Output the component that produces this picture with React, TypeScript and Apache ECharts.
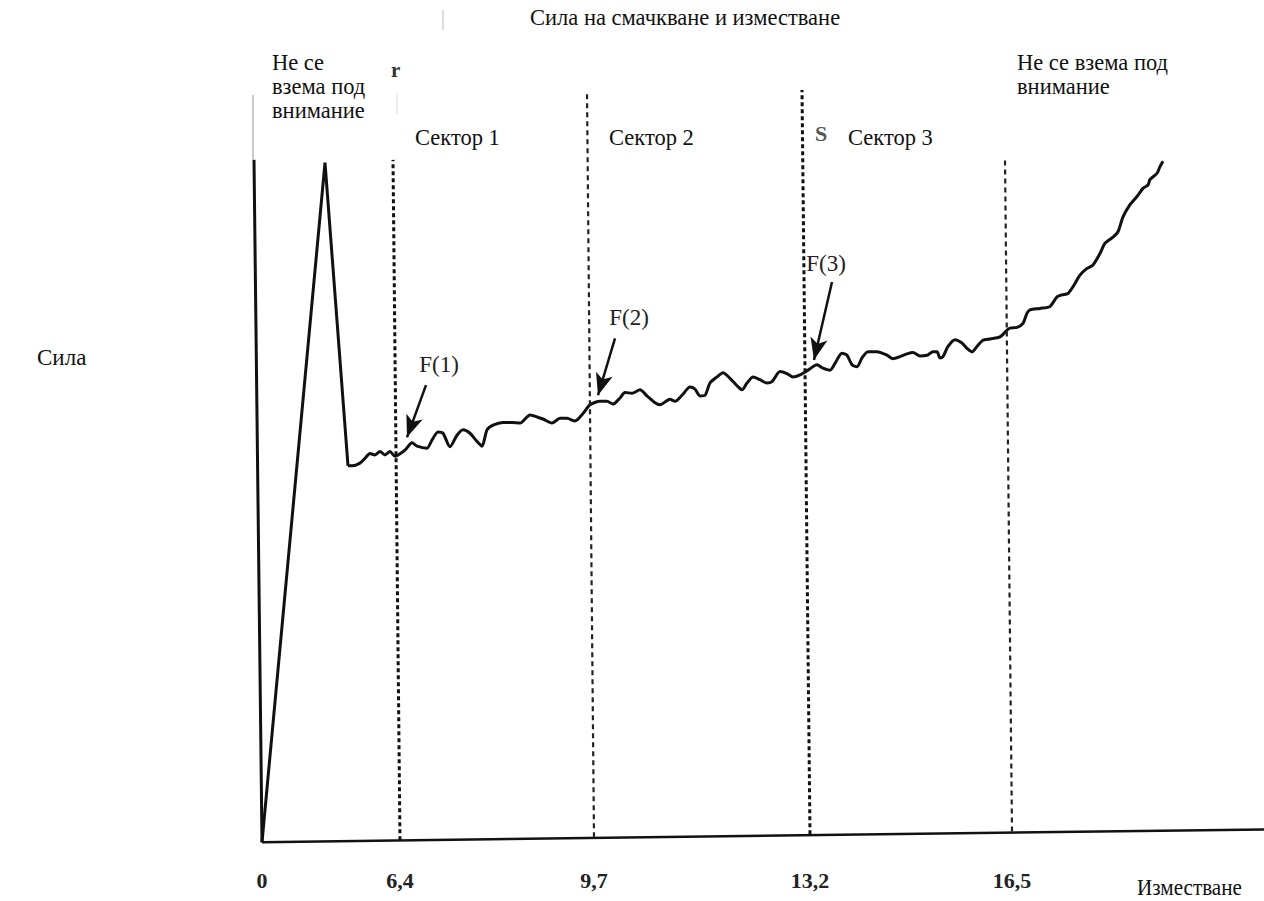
import React, { useEffect, useRef } from "react";
import * as echarts from "echarts";

const FONT = '"Liberation Serif", "Times New Roman", serif';

// Schematic x positions (axis units) of the labelled displacements
const tickLabels = ["0", "6,4", "9,7", "13,2", "16,5"];
const tickPositions = [0.4, 14.2, 33.6, 55.2, 75.4];

// Sector boundary dashed lines (the scan is slightly rotated): bottom/top ends
const boundaryBottomX = [14.2, 33.6, 55.2, 75.4];
const boundaryBottomY = [-0.3, 0.15, 0.6, 1.0];
const boundaryTopX = [13.5, 32.9, 54.4, 74.7];
const boundaryTopY = [100, 110, 110.3, 100];

// Axis lines as scanned (slightly tilted)
const xAxisEnds = [[0.4, -0.6], [100.6, 1.3]];
const yAxisEnds = [[0.4, -0.6], [-0.4, 100]];

// Force curve: initial spike (not considered), then sectors
const spike = [[0.4, -0.6], [6.7, 99.6], [9.0, 54.9]];
const leadIn = [
  [9.0, 54.9], [9.4, 54.9], [10.2, 55.3], [10.7, 56.0], [11.2, 56.7], [11.7, 56.5],
  [12.2, 57.0], [12.7, 56.5], [13.2, 57.0], [13.7, 56.3],
];
const sector1 = [
  [14.0, 56.5], [14.7, 57.2], [15.4, 58.3], [15.9, 57.8], [16.9, 57.5], [17.4, 58.7],
  [18.0, 59.9], [18.5, 59.7], [19.2, 57.7], [19.9, 59.4], [20.5, 60.2], [21.2, 59.7],
  [21.9, 58.5], [22.4, 57.8], [22.9, 60.2], [23.5, 60.9], [24.5, 61.3], [25.4, 61.3],
  [26.2, 61.2], [27.2, 62.4], [27.9, 62.1], [28.5, 61.8], [29.4, 61.2], [30.2, 61.9],
  [30.9, 61.9], [31.7, 61.5], [32.5, 62.6], [33.2, 63.9],
];
const sector2 = [
  [34.2, 64.4], [34.9, 64.4], [35.5, 64.0], [36.2, 64.9], [36.7, 65.7], [37.4, 65.6],
  [38.2, 66.1], [38.9, 65.2], [39.7, 64.2], [40.2, 63.9], [40.9, 64.5], [41.2, 64.7],
  [41.7, 64.4], [42.4, 65.3], [43.2, 66.5], [43.7, 66.2], [44.2, 65.2], [44.7, 65.3],
  [45.2, 67.1], [45.9, 68.0], [46.5, 68.6], [47.2, 67.8], [47.9, 66.7], [48.4, 66.1],
  [48.9, 67.1], [49.5, 68.0], [50.2, 67.6], [50.9, 67.1], [51.4, 67.3], [52.2, 68.8],
  [52.9, 68.5], [53.5, 68.0], [54.2, 68.3],
];
const sector3 = [
  [55.0, 69.0], [55.9, 69.8], [56.5, 69.3], [57.2, 69.0], [57.7, 70.0], [58.4, 71.5],
  [58.9, 71.2], [59.4, 69.8], [59.9, 69.5], [60.4, 70.8], [61.0, 71.7], [61.9, 71.7],
  [62.9, 71.2], [63.5, 70.7], [64.2, 71.0], [64.9, 71.4], [65.5, 71.6], [66.2, 71.1],
  [66.9, 71.2], [67.5, 71.7], [67.9, 71.7], [68.2, 70.8], [68.5, 71.0], [69.0, 72.5],
  [69.7, 73.5], [70.4, 73.0], [70.9, 72.2], [71.4, 71.7], [71.9, 72.5], [72.5, 73.4],
  [73.2, 73.6], [74.2, 73.9],
];
const tail = [
  [74.9, 74.9], [75.2, 75.2], [75.9, 75.3], [76.5, 75.9], [76.9, 77.4], [77.2, 77.9],
  [78.2, 78.1], [79.2, 78.4], [79.9, 79.8], [80.4, 80.1], [81.0, 80.3], [81.5, 81.3],
  [82.2, 83.0], [82.9, 84.0], [83.5, 84.5], [84.2, 86.2], [84.7, 87.7], [85.5, 88.6],
  [86.0, 89.4], [86.5, 91.6], [87.2, 93.4], [87.9, 94.6], [88.5, 95.8], [89.0, 96.3],
  [89.2, 97.1], [89.9, 98.0], [90.2, 99.0], [90.5, 99.8],
];

// F(n) annotations: label centre, arrow start, arrow end
const fLabels = ["F(1)", "F(2)", "F(3)"];
const fLabelPos = [[18.1, 69.8], [37.1, 76.7], [56.8, 84.7]];
const fArrowFrom = [[16.8, 66.8], [35.7, 73.7], [57.4, 82.0]];
const fArrowTo = [[14.9, 59.1], [34.0, 65.3], [55.6, 70.5]];

export default function App() {
  const ref = useRef<HTMLDivElement>(null);

  useEffect(() => {
    if (!ref.current) return;
    const chart = echarts.init(ref.current, null, { renderer: "svg" });

    const solid = (w: number) => ({ type: "solid", width: w, color: "#111" });
    const dotted = { type: [4, 3], width: 3, color: "#111" };
    const dashed = { type: [5, 4], width: 2.2, color: "#222" };
    const boundaryStyles = [dotted, dashed, dotted, dashed];
    const boundaryLines = boundaryBottomX.map((bx, i) => [
      { coord: [bx, boundaryBottomY[i]], symbol: "none", lineStyle: boundaryStyles[i] },
      { coord: [boundaryTopX[i], boundaryTopY[i]], symbol: "none" },
    ]);
    const axisLines = [
      [{ coord: xAxisEnds[0], symbol: "none", lineStyle: solid(2.5) }, { coord: xAxisEnds[1], symbol: "none" }],
      [{ coord: yAxisEnds[0], symbol: "none", lineStyle: solid(3) }, { coord: yAxisEnds[1], symbol: "none" }],
    ];
    const arrows = fArrowFrom.map((a, i) => [
      { coord: a, symbol: "none", lineStyle: solid(2.5) },
      { coord: fArrowTo[i], symbol: "arrow", symbolSize: [13, 22] },
    ]);

    const textStyle = (size: number, extra: any = {}) => ({
      fontSize: size,
      fontFamily: FONT,
      fill: "#111",
      lineHeight: 24,
      ...extra,
    });

    chart.setOption({
      animation: false,
      backgroundColor: "#fff",
      grid: { left: 254, right: 0, top: 90, bottom: 56 },
      xAxis: {
        type: "value",
        min: -0.4,
        max: 100.6,
        axisLine: { show: false },
        axisTick: { show: false },
        splitLine: { show: false },
        axisLabel: {
          customValues: tickPositions,
          formatter: (v: number) => {
            const i = tickPositions.findIndex((t) => Math.abs(t - v) < 1e-6);
            return i >= 0 ? tickLabels[i] : "";
          },
          margin: 24,
          fontSize: 22,
          fontWeight: "bold",
          fontFamily: FONT,
          color: "#222",
        },
      },
      yAxis: {
        type: "value",
        min: -1,
        max: 110.3,
        axisLine: { show: false },
        axisTick: { show: false },
        axisLabel: { show: false },
        splitLine: { show: false },
      },
      series: [
        {
          type: "line",
          name: "spike",
          data: spike,
          symbol: "none",
          smooth: false,
          clip: false,
          lineStyle: { color: "#111", width: 3 },
        },
        {
          type: "line",
          name: "force",
          data: [...leadIn, ...sector1, ...sector2, ...sector3, ...tail],
          symbol: "none",
          smooth: 0.25,
          clip: false,
          lineStyle: { color: "#111", width: 3 },
          markLine: {
            silent: true,
            label: { show: false },
            data: [...axisLines, ...boundaryLines, ...arrows],
          },
          markPoint: {
            silent: true,
            symbol: "circle",
            symbolSize: 0,
            label: {
              show: true,
              position: "inside",
              formatter: "{b}",
              fontSize: 23,
              fontFamily: FONT,
              color: "#222",
            },
            data: fLabels.map((n, i) => ({ name: n, coord: fLabelPos[i] })),
          },
        },
      ],
      graphic: [
        { type: "text", x: 530, y: 5, style: textStyle(22.5, { text: "Сила на смачкване и изместване" }) },
        { type: "text", x: 272, y: 50, style: textStyle(22.5, { text: "Не се\nвзема под\nвнимание" }) },
        { type: "text", x: 415, y: 125, style: textStyle(22.5, { text: "Сектор 1" }) },
        { type: "text", x: 609, y: 125, style: textStyle(22.5, { text: "Сектор 2" }) },
        { type: "text", x: 848, y: 125, style: textStyle(22.5, { text: "Сектор 3" }) },
        { type: "text", x: 1017, y: 50, style: textStyle(22.5, { text: "Не се взема под\nвнимание" }) },
        { type: "text", x: 37, y: 345, style: textStyle(23, { text: "Сила" }) },
        { type: "text", x: 1137, y: 875, scaleX: 0.88, style: textStyle(24, { text: "Изместване" }) },
        { type: "text", x: 391, y: 58, style: textStyle(21, { text: "r", fontWeight: "bold", fill: "#333" }) },
        { type: "text", x: 815, y: 121, style: textStyle(22, { text: "S", fontWeight: "bold", fill: "#555" }) },
        { type: "line", shape: { x1: 443, y1: 10, x2: 443, y2: 30 }, style: { stroke: "#bbb", lineWidth: 1 } },
        { type: "line", shape: { x1: 253, y1: 95, x2: 253, y2: 160 }, style: { stroke: "#999", lineWidth: 1 } },
        { type: "line", shape: { x1: 397, y1: 93, x2: 397, y2: 114 }, style: { stroke: "#ddd", lineWidth: 1 } },
      ],
    });

    return () => chart.dispose();
  }, []);

  return <div ref={ref} style={{ width: 1264, height: 901, position: "absolute", left: 0, top: 0 }} />;
}
